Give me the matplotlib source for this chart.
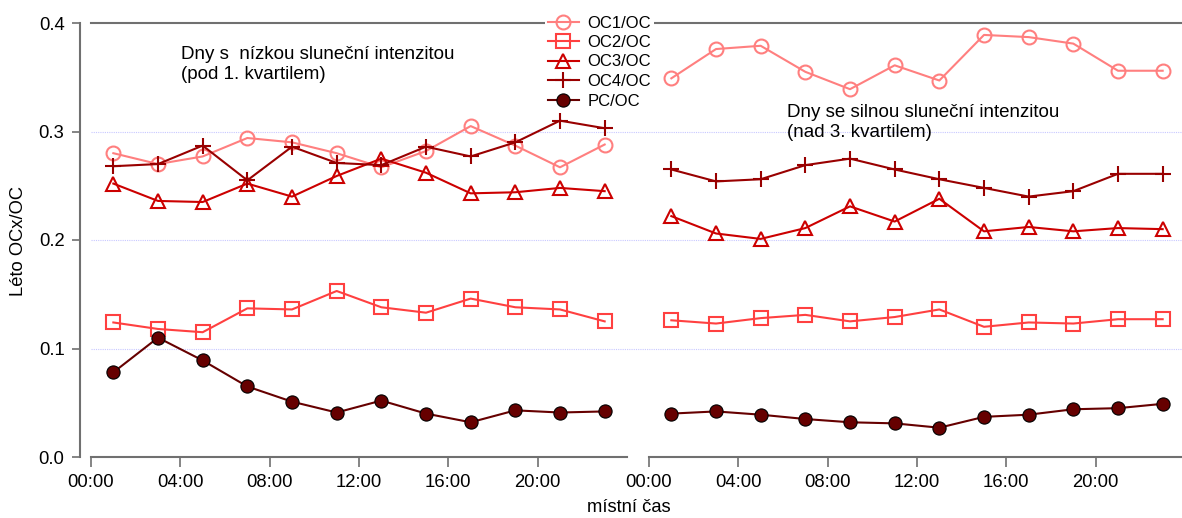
import matplotlib
matplotlib.use("Agg")
import matplotlib.pyplot as plt
import numpy as np

plt.rcParams['font.family'] = ['Liberation Sans', 'DejaVu Sans']

hours = [1, 3, 5, 7, 9, 11, 13, 15, 17, 19, 21, 23]
tick_hours = [0, 4, 8, 12, 16, 20]
tick_labels = ["00:00", "04:00", "08:00", "12:00", "16:00", "20:00"]
y_ticks = [0.0, 0.1, 0.2, 0.3, 0.4]
y_tick_labels = ["0.0", "0.1", "0.2", "0.3", "0.4"]

# Low solar intensity days (left panel)
low_oc1 = [0.280, 0.270, 0.277, 0.294, 0.290, 0.280, 0.267, 0.282, 0.305, 0.287, 0.267, 0.288]
low_oc2 = [0.124, 0.118, 0.115, 0.137, 0.136, 0.153, 0.138, 0.133, 0.146, 0.138, 0.136, 0.125]
low_oc3 = [0.252, 0.236, 0.235, 0.252, 0.240, 0.259, 0.275, 0.262, 0.243, 0.244, 0.248, 0.245]
low_oc4 = [0.268, 0.270, 0.287, 0.255, 0.286, 0.271, 0.269, 0.286, 0.277, 0.290, 0.310, 0.303]
low_pc = [0.078, 0.110, 0.089, 0.065, 0.051, 0.041, 0.052, 0.040, 0.032, 0.043, 0.041, 0.042]

# High solar intensity days (right panel)
high_oc1 = [0.349, 0.376, 0.379, 0.355, 0.339, 0.361, 0.347, 0.389, 0.387, 0.381, 0.356, 0.356]
high_oc2 = [0.126, 0.123, 0.128, 0.131, 0.125, 0.129, 0.136, 0.120, 0.124, 0.123, 0.127, 0.127]
high_oc3 = [0.222, 0.206, 0.201, 0.211, 0.231, 0.217, 0.238, 0.208, 0.212, 0.208, 0.211, 0.210]
high_oc4 = [0.265, 0.254, 0.256, 0.269, 0.275, 0.265, 0.256, 0.248, 0.240, 0.245, 0.261, 0.261]
high_pc = [0.040, 0.042, 0.039, 0.035, 0.032, 0.031, 0.027, 0.037, 0.039, 0.044, 0.045, 0.049]

labels = ["OC1/OC", "OC2/OC", "OC3/OC", "OC4/OC", "PC/OC"]
colors = ["#FF7F7F", "#FF4040", "#CC0000", "#990000", "#660000"]
markers = ["o", "s", "^", "+", "o"]

W, H = 1182, 518
fig = plt.figure(figsize=(W / 100, H / 100), dpi=100)

def fx(px):
    return px / W

def fy(py):
    return 1 - py / H

y0, y1 = 457, 23
axb = fig.add_axes([fx(91), fy(y0), fx(1182 - 91), (y0 - y1) / H])
axb.set_xlim(0, 1)
axb.set_ylim(0, 0.4)
axb.axis('off')
for v in [0.1, 0.2, 0.3]:
    axb.axhline(v, color="#C8C8FF", lw=0.8, ls=(0, (1, 1)))
axb.axhline(0.4, color="#707070", lw=1.5, clip_on=False)

axL = fig.add_axes([fx(91), fy(y0), fx(536), (y0 - y1) / H])
axR = fig.add_axes([fx(649), fy(y0), fx(533), (y0 - y1) / H])
axL.set_xlim(0, 24)
axR.set_xlim(0, 533 / (536 / 24))

series_low = [low_oc1, low_oc2, low_oc3, low_oc4, low_pc]
series_high = [high_oc1, high_oc2, high_oc3, high_oc4, high_pc]

def draw(ax, series):
    handles = []
    for vals, lab, c, m in zip(series, labels, colors, markers):
        if lab == "PC/OC":
            h, = ax.plot(hours, vals, color=c, lw=1.5, marker=m, ms=9.5,
                         mfc=c, mec="black", mew=0.8, label=lab, clip_on=False)
        elif m == "+":
            h, = ax.plot(hours, vals, color=c, lw=1.5, marker=m, ms=12,
                         mew=1.5, label=lab, clip_on=False)
        else:
            h, = ax.plot(hours, vals, color=c, lw=1.5, marker=m, ms=10,
                         mfc="none", mec=c, mew=1.5, label=lab, clip_on=False)
        handles.append(h)
    return handles

handles = draw(axL, series_low)
draw(axR, series_high)

spine_color = "#707070"
tick_fs = 13.3
for ax in (axL, axR):
    ax.set_ylim(0, 0.4)
    ax.patch.set_alpha(0)
    ax.spines['top'].set_visible(False)
    ax.spines['right'].set_visible(False)
    ax.spines['bottom'].set_color(spine_color)
    ax.spines['bottom'].set_linewidth(1.5)
    ax.set_xticks(tick_hours)
    ax.set_xticklabels(tick_labels)
    ax.tick_params(axis='x', length=7, width=1.2, color=spine_color,
                   labelsize=tick_fs, pad=5)

axL.spines['left'].set_position(('outward', 8))
axL.spines['left'].set_color(spine_color)
axL.spines['left'].set_linewidth(1.5)
axL.set_yticks(y_ticks)
axL.set_yticklabels(y_tick_labels)
axL.tick_params(axis='y', length=6, width=1.2, color=spine_color,
                labelsize=tick_fs, pad=5)

axR.spines['left'].set_visible(False)
axR.set_yticks([])

fig.text(fx(19), fy(241), "Léto OCx/OC", rotation=90, ha='center', va='center', fontsize=13.2)
fig.text(fx(629), fy(507), "místní čas", ha='center', va='center', fontsize=13.2)

fig.text(fx(181), fy(46), "Dny s  nízkou sluneční intenzitou\n(pod 1. kvartilem)",
         ha='left', va='top', fontsize=13.5, linespacing=1.2)
fig.text(fx(787), fy(104), "Dny se silnou sluneční intenzitou\n(nad 3. kvartilem)",
         ha='left', va='top', fontsize=13.5, linespacing=1.2)

leg = fig.legend(handles=handles, labels=labels, loc='upper left',
                 bbox_to_anchor=(fx(545), fy(13)), frameon=True,
                 fontsize=12, handlelength=1.9, handletextpad=0.5,
                 labelspacing=0.27, borderpad=0.15, borderaxespad=0)
leg.get_frame().set_facecolor('white')
leg.get_frame().set_edgecolor('none')
leg.get_frame().set_alpha(1)

fig.savefig("out.png", dpi=100)
